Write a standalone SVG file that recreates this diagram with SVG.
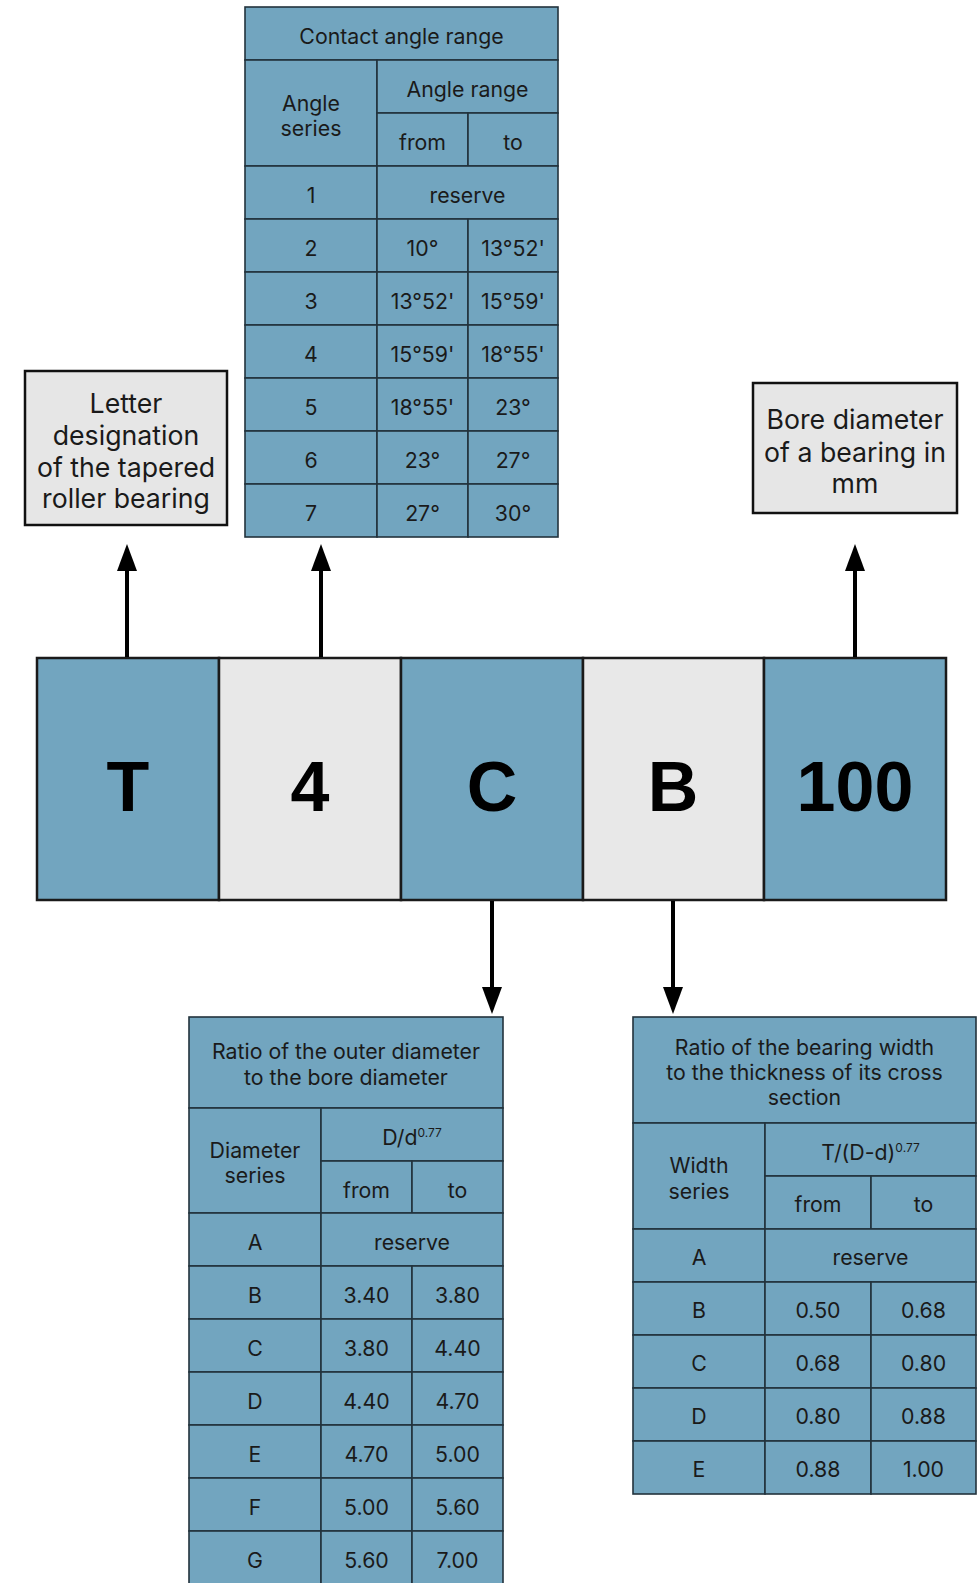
<svg xmlns="http://www.w3.org/2000/svg" width="977" height="1583" viewBox="0 0 977 1583">
<style>
.c{fill:#72a5bf;stroke:#22323c;stroke-width:1.6}
.t{font-family:Inter,"Liberation Sans",sans-serif;font-size:21.3px;fill:#1a1a1a;text-anchor:middle}
.lb{fill:#e6e6e6;stroke:#111;stroke-width:2.5}
.lt{font-family:Inter,"Liberation Sans",sans-serif;font-size:26.7px;fill:#1a1a1a;text-anchor:middle}
.mb{stroke:#1a1a1a;stroke-width:2.5}
.blue{fill:#72a5bf}
.grey{fill:#e8e8e8}
.big{font-family:"Liberation Sans",Arial,sans-serif;font-weight:bold;font-size:70px;fill:#000;text-anchor:middle}
.sup{font-size:12px}
.ar{stroke:#000;stroke-width:4;fill:none}
</style>
<defs>
<marker id="ah" viewBox="0 0 27 20" refX="0" refY="10" markerWidth="27" markerHeight="20" markerUnits="userSpaceOnUse" orient="auto">
<path d="M0,0 L27,10 L0,20 z" fill="#000"/>
</marker>
</defs>

<g id="contact-angle-table">
<rect class="c" x="245" y="7" width="313" height="53"/>
<text class="t" x="401.5" y="44">Contact angle range</text>
<rect class="c" x="245" y="60" width="132" height="106"/>
<text class="t" x="311" y="111">Angle</text>
<text class="t" x="311" y="136">series</text>
<rect class="c" x="377" y="60" width="181" height="53"/>
<text class="t" x="467.5" y="97">Angle range</text>
<rect class="c" x="377" y="113" width="91" height="53"/>
<text class="t" x="422.5" y="150">from</text>
<rect class="c" x="468" y="113" width="90" height="53"/>
<text class="t" x="513" y="150">to</text>
<rect class="c" x="245" y="166" width="132" height="53"/>
<text class="t" x="311" y="203">1</text>
<rect class="c" x="377" y="166" width="181" height="53"/>
<text class="t" x="467.5" y="203">reserve</text>
<rect class="c" x="245" y="219" width="132" height="53"/><text class="t" x="311" y="256">2</text>
<rect class="c" x="377" y="219" width="91" height="53"/><text class="t" x="422.5" y="256">10°</text>
<rect class="c" x="468" y="219" width="90" height="53"/><text class="t" x="513" y="256">13°52'</text>
<rect class="c" x="245" y="272" width="132" height="53"/><text class="t" x="311" y="309">3</text>
<rect class="c" x="377" y="272" width="91" height="53"/><text class="t" x="422.5" y="309">13°52'</text>
<rect class="c" x="468" y="272" width="90" height="53"/><text class="t" x="513" y="309">15°59'</text>
<rect class="c" x="245" y="325" width="132" height="53"/><text class="t" x="311" y="362">4</text>
<rect class="c" x="377" y="325" width="91" height="53"/><text class="t" x="422.5" y="362">15°59'</text>
<rect class="c" x="468" y="325" width="90" height="53"/><text class="t" x="513" y="362">18°55'</text>
<rect class="c" x="245" y="378" width="132" height="53"/><text class="t" x="311" y="415">5</text>
<rect class="c" x="377" y="378" width="91" height="53"/><text class="t" x="422.5" y="415">18°55'</text>
<rect class="c" x="468" y="378" width="90" height="53"/><text class="t" x="513" y="415">23°</text>
<rect class="c" x="245" y="431" width="132" height="53"/><text class="t" x="311" y="468">6</text>
<rect class="c" x="377" y="431" width="91" height="53"/><text class="t" x="422.5" y="468">23°</text>
<rect class="c" x="468" y="431" width="90" height="53"/><text class="t" x="513" y="468">27°</text>
<rect class="c" x="245" y="484" width="132" height="53"/><text class="t" x="311" y="521">7</text>
<rect class="c" x="377" y="484" width="91" height="53"/><text class="t" x="422.5" y="521">27°</text>
<rect class="c" x="468" y="484" width="90" height="53"/><text class="t" x="513" y="521">30°</text>
</g>

<g id="letter-box">
<rect class="lb" x="25" y="371" width="202" height="154"/>
<text class="lt" x="126" y="413">Letter</text>
<text class="lt" x="126" y="445">designation</text>
<text class="lt" x="126" y="477">of the tapered</text>
<text class="lt" x="126" y="508">roller bearing</text>
</g>

<g id="bore-box">
<rect class="lb" x="753" y="383" width="204" height="130"/>
<text class="lt" x="855" y="429">Bore diameter</text>
<text class="lt" x="855" y="462">of a bearing in</text>
<text class="lt" x="855" y="493">mm</text>
</g>

<g id="designation-bar">
<rect class="blue mb" x="37" y="658" width="182" height="242"/>
<rect class="grey mb" x="219" y="658" width="182" height="242"/>
<rect class="blue mb" x="401" y="658" width="182" height="242"/>
<rect class="grey mb" x="583" y="658" width="181" height="242"/>
<rect class="blue mb" x="764" y="658" width="182" height="242"/>
<text class="big" x="128" y="811">T</text>
<text class="big" x="310" y="811">4</text>
<text class="big" x="492" y="811">C</text>
<text class="big" x="673" y="811">B</text>
<text class="big" x="855" y="811">100</text>
</g>

<g id="diameter-table">
<rect class="c" x="189" y="1017" width="314" height="91"/>
<text class="t" x="346" y="1059">Ratio of the outer diameter</text>
<text class="t" x="346" y="1085">to the bore diameter</text>
<rect class="c" x="189" y="1108" width="132" height="105"/>
<text class="t" x="255" y="1158">Diameter</text>
<text class="t" x="255" y="1183">series</text>
<rect class="c" x="321" y="1108" width="182" height="53"/>
<text class="t" x="412" y="1145">D/d<tspan class="sup" dy="-8">0.77</tspan></text>
<rect class="c" x="321" y="1161" width="91" height="52"/>
<text class="t" x="366.5" y="1198">from</text>
<rect class="c" x="412" y="1161" width="91" height="52"/>
<text class="t" x="457.5" y="1198">to</text>
<rect class="c" x="189" y="1213" width="132" height="53"/><text class="t" x="255" y="1250">A</text>
<rect class="c" x="321" y="1213" width="182" height="53"/><text class="t" x="412" y="1250">reserve</text>
<rect class="c" x="189" y="1266" width="132" height="53"/><text class="t" x="255" y="1303">B</text>
<rect class="c" x="321" y="1266" width="91" height="53"/><text class="t" x="366.5" y="1303">3.40</text>
<rect class="c" x="412" y="1266" width="91" height="53"/><text class="t" x="457.5" y="1303">3.80</text>
<rect class="c" x="189" y="1319" width="132" height="53"/><text class="t" x="255" y="1356">C</text>
<rect class="c" x="321" y="1319" width="91" height="53"/><text class="t" x="366.5" y="1356">3.80</text>
<rect class="c" x="412" y="1319" width="91" height="53"/><text class="t" x="457.5" y="1356">4.40</text>
<rect class="c" x="189" y="1372" width="132" height="53"/><text class="t" x="255" y="1409">D</text>
<rect class="c" x="321" y="1372" width="91" height="53"/><text class="t" x="366.5" y="1409">4.40</text>
<rect class="c" x="412" y="1372" width="91" height="53"/><text class="t" x="457.5" y="1409">4.70</text>
<rect class="c" x="189" y="1425" width="132" height="53"/><text class="t" x="255" y="1462">E</text>
<rect class="c" x="321" y="1425" width="91" height="53"/><text class="t" x="366.5" y="1462">4.70</text>
<rect class="c" x="412" y="1425" width="91" height="53"/><text class="t" x="457.5" y="1462">5.00</text>
<rect class="c" x="189" y="1478" width="132" height="53"/><text class="t" x="255" y="1515">F</text>
<rect class="c" x="321" y="1478" width="91" height="53"/><text class="t" x="366.5" y="1515">5.00</text>
<rect class="c" x="412" y="1478" width="91" height="53"/><text class="t" x="457.5" y="1515">5.60</text>
<rect class="c" x="189" y="1531" width="132" height="53"/><text class="t" x="255" y="1568">G</text>
<rect class="c" x="321" y="1531" width="91" height="53"/><text class="t" x="366.5" y="1568">5.60</text>
<rect class="c" x="412" y="1531" width="91" height="53"/><text class="t" x="457.5" y="1568">7.00</text>
</g>

<g id="width-table">
<rect class="c" x="633" y="1017" width="343" height="106"/>
<text class="t" x="804.5" y="1055">Ratio of the bearing width</text>
<text class="t" x="804.5" y="1080">to the thickness of its cross</text>
<text class="t" x="804.5" y="1105">section</text>
<rect class="c" x="633" y="1123" width="132" height="106"/>
<text class="t" x="699" y="1173">Width</text>
<text class="t" x="699" y="1199">series</text>
<rect class="c" x="765" y="1123" width="211" height="53"/>
<text class="t" x="870.5" y="1160">T/(D-d)<tspan class="sup" dy="-8">0.77</tspan></text>
<rect class="c" x="765" y="1176" width="106" height="53"/>
<text class="t" x="818" y="1212">from</text>
<rect class="c" x="871" y="1176" width="105" height="53"/>
<text class="t" x="923.5" y="1212">to</text>
<rect class="c" x="633" y="1229" width="132" height="53"/><text class="t" x="699" y="1265">A</text>
<rect class="c" x="765" y="1229" width="211" height="53"/><text class="t" x="870.5" y="1265">reserve</text>
<rect class="c" x="633" y="1282" width="132" height="53"/><text class="t" x="699" y="1318">B</text>
<rect class="c" x="765" y="1282" width="106" height="53"/><text class="t" x="818" y="1318">0.50</text>
<rect class="c" x="871" y="1282" width="105" height="53"/><text class="t" x="923.5" y="1318">0.68</text>
<rect class="c" x="633" y="1335" width="132" height="53"/><text class="t" x="699" y="1371">C</text>
<rect class="c" x="765" y="1335" width="106" height="53"/><text class="t" x="818" y="1371">0.68</text>
<rect class="c" x="871" y="1335" width="105" height="53"/><text class="t" x="923.5" y="1371">0.80</text>
<rect class="c" x="633" y="1388" width="132" height="53"/><text class="t" x="699" y="1424">D</text>
<rect class="c" x="765" y="1388" width="106" height="53"/><text class="t" x="818" y="1424">0.80</text>
<rect class="c" x="871" y="1388" width="105" height="53"/><text class="t" x="923.5" y="1424">0.88</text>
<rect class="c" x="633" y="1441" width="132" height="53"/><text class="t" x="699" y="1477">E</text>
<rect class="c" x="765" y="1441" width="106" height="53"/><text class="t" x="818" y="1477">0.88</text>
<rect class="c" x="871" y="1441" width="105" height="53"/><text class="t" x="923.5" y="1477">1.00</text>
</g>

<g id="connectors">
<path class="ar" d="M127,657 V571" marker-end="url(#ah)"/>
<path class="ar" d="M321,657 V571" marker-end="url(#ah)"/>
<path class="ar" d="M855,657 V571" marker-end="url(#ah)"/>
<path class="ar" d="M492,901 V987" marker-end="url(#ah)"/>
<path class="ar" d="M673,901 V987" marker-end="url(#ah)"/>
</g>
</svg>
